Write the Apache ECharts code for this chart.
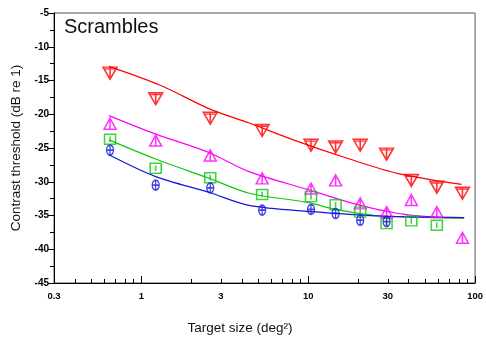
<!DOCTYPE html>
<html>
<head>
<meta charset="utf-8">
<script src="https://cdn.jsdelivr.net/npm/echarts@6/dist/echarts.min.js"></script>
<style>html,body{margin:0;padding:0;background:#fff}#c{width:486px;height:340px}</style>
</head>
<body>
<div id="c"></div>
<script>
// ---- data ----
var targetSizes = [0.65, 1.22, 2.59, 5.3, 10.4, 14.6, 20.5, 29.5, 41.5, 59, 84];
var redData     = [-13.9, -17.7, -20.6, -22.4, -24.6, -24.85, -24.6, -25.9, -29.8, -30.8, -31.7];
var magentaData = [-21.4, -23.9, -26.1, -29.5, -31.0, -29.8, -33.2, -34.5, -32.7, -34.5, -38.3];
var greenData   = [-23.7, -28.0, -29.4, -31.9, -32.2, -33.4, -34.5, -36.2, -35.8, -36.45];
var blueData    = [-25.3, -30.5, -30.9, -34.2, -34.1, -34.7, -35.7, -35.9];

var redFitX     = [0.64, 1.3, 2.56, 4.43, 8.8, 17.5, 34.7, 83];
var redFitY     = [-12.9, -15.7, -19.2, -21.3, -24.1, -26.6, -28.8, -30.4];
var magentaFitX = [0.64, 1.21, 2.56, 4.43, 10.1, 20.5, 34.7, 55, 86];
var magentaFitY = [-20.2, -22.9, -25.7, -28.5, -31.2, -33.5, -34.7, -35.2, -35.4];
var greenFitX   = [0.64, 1.21, 2.56, 4.43, 10.1, 14.6, 25.3, 86];
var greenFitY   = [-23.8, -26.6, -29.5, -31.7, -33.1, -34.1, -35.0, -35.4];
var blueFitX    = [0.64, 1.21, 2.56, 4.43, 10.1, 27.7, 86];
var blueFitY    = [-26.0, -29.2, -31.6, -33.5, -34.4, -35.1, -35.3];

var xLabelValues = [0.3, 1, 3, 10, 30, 100];
var xMajorTicks  = [1, 10, 100];
var xMinorTicks  = [0.4,0.5,0.6,0.7,0.8,0.9,2,3,4,5,6,7,8,9,20,30,40,50,60,70,80,90];

var titleText = 'Scrambles';
var xName = 'Target size (deg\u00B2)';
var yName = 'Contrast threshold (dB re 1)';

function pairs(xs, ys) { return ys.map(function (v, i) { return [xs[i], v]; }); }

var RED = '#ff0000', MAG = '#ff00ff', GRN = '#10c810', BLU = '#1515d8';
var symDown = 'path://M0,0 L12,0 L6,10 Z M6,0 L6,10 M1,1.5 L11,1.5';
var symUp   = 'path://M6,0 L12,10 L0,10 Z M6,0 L6,10';
var symRect = 'path://M0,0 L10,0 L10,9 L0,9 Z M5,2 L5,7';
var symOval = 'path://M3,0 A3,4 0 1 1 3,8 A3,4 0 1 1 3,0 Z M3,0 L3,8 M0,4 L6,4';

function scatter(name, data, sym, size, color) {
  return {
    name: name, type: 'scatter', data: pairs(targetSizes, data),
    symbol: sym, symbolSize: size, z: 3,
    itemStyle: { color: 'rgba(255,255,255,0)', borderColor: color, borderWidth: 1.5 }
  };
}
function fit(name, xs, ys, color) {
  return {
    name: name, type: 'line', data: pairs(xs, ys), smooth: 0.3,
    showSymbol: false, symbol: 'none', z: 2,
    lineStyle: { color: color, width: 1.2 }
  };
}

var chart = echarts.init(document.getElementById('c'), null, { renderer: 'canvas' });
chart.setOption({
  backgroundColor: '#fff',
  animation: false,
  grid: { left: 54, top: 13, right: 9, bottom: 57, show: true, borderColor: '#555', borderWidth: 1, backgroundColor: 'transparent' },
  graphic: [{
    type: 'text', left: 64, top: 17,
    style: { text: titleText, font: '20px "Liberation Sans"', fill: '#111' }
  }],
  xAxis: [{
    type: 'log', logBase: 10, min: 0.3, max: 100, position: 'bottom',
    name: xName, nameLocation: 'middle', nameGap: 38,
    nameTextStyle: { fontFamily: 'Liberation Sans', fontSize: 13.5, color: '#111', padding: [0, 49, 0, 0] },
    axisLine: { show: true, lineStyle: { color: '#000', width: 1 } },
    axisTick: { show: true, inside: true, length: 7, customValues: xMajorTicks, lineStyle: { color: '#000' } },
    axisLabel: { show: true, margin: 8, customValues: xLabelValues, showMinLabel: true, showMaxLabel: true,
                 fontFamily: 'Liberation Sans', fontWeight: 'bold', fontSize: 9.5, color: '#000' },
    splitLine: { show: false }
  }, {
    type: 'log', logBase: 10, min: 0.3, max: 100, position: 'bottom',
    axisLine: { show: false },
    axisTick: { show: true, inside: true, length: 4, customValues: xMinorTicks, lineStyle: { color: '#000' } },
    axisLabel: { show: false },
    splitLine: { show: false }
  }],
  yAxis: {
    type: 'value', min: -45, max: -5, interval: 5,
    name: yName, nameLocation: 'middle', nameGap: 30, nameRotate: 90,
    nameTextStyle: { fontFamily: 'Liberation Sans', fontSize: 13.5, color: '#111' },
    axisLine: { show: true, lineStyle: { color: '#000', width: 1 } },
    axisTick: { show: true, inside: false, length: 6, lineStyle: { color: '#000' } },
    minorTick: { show: true, splitNumber: 2, length: 4, lineStyle: { color: '#000' } },
    axisLabel: { margin: 5, fontFamily: 'Liberation Sans', fontWeight: 'bold', fontSize: 10, color: '#000' },
    splitLine: { show: false }
  },
  series: [
    fit('red fit', redFitX, redFitY, RED),
    fit('magenta fit', magentaFitX, magentaFitY, MAG),
    fit('green fit', greenFitX, greenFitY, GRN),
    fit('blue fit', blueFitX, blueFitY, BLU),
    scatter('red', redData, symDown, [14, 12], RED),
    scatter('magenta', magentaData, symUp, [12, 11], MAG),
    scatter('green', greenData, symRect, [11, 10], GRN),
    scatter('blue', blueData, symOval, [7, 10], BLU)
  ]
});
</script>
</body>
</html>
